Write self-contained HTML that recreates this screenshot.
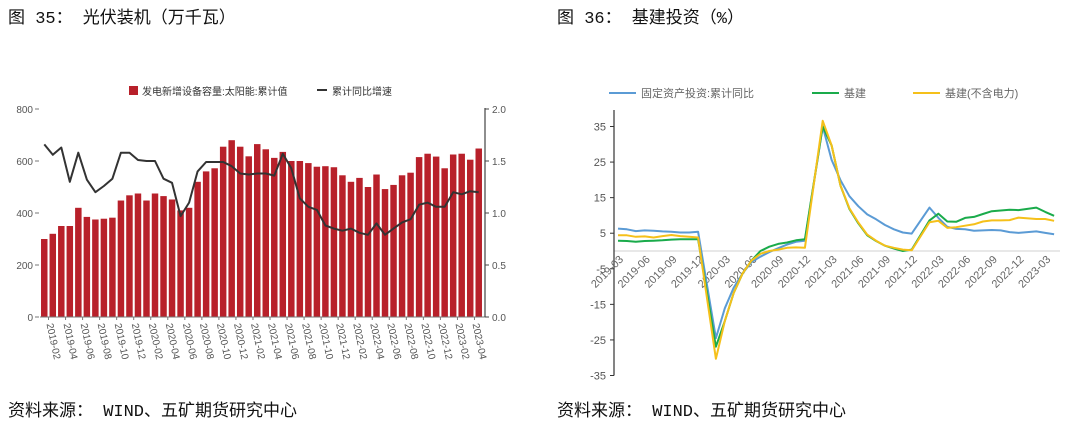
<!DOCTYPE html>
<html><head><meta charset="utf-8"><style>
body{margin:0;background:#fff;width:1080px;height:437px;overflow:hidden;font-family:"Liberation Sans","Noto Sans CJK SC",sans-serif;}
svg{position:absolute;left:0;top:0}
</style></head><body>
<svg id="svg" width="1080" height="437" xmlns="http://www.w3.org/2000/svg">
<text x="8" y="23" font-size="17" fill="#111" font-family="'Liberation Mono','Noto Sans CJK SC',monospace">图 35：  光伏装机（万千瓦）</text>
<text x="557" y="23" font-size="17" fill="#111" font-family="'Liberation Mono','Noto Sans CJK SC',monospace">图 36：  基建投资（%）</text>
<text x="8" y="416" font-size="17" fill="#111" font-family="'Liberation Mono','Noto Sans CJK SC',monospace">资料来源：  WIND、五矿期货研究中心</text>
<text x="557" y="416" font-size="17" fill="#111" font-family="'Liberation Mono','Noto Sans CJK SC',monospace">资料来源：  WIND、五矿期货研究中心</text>
<g id="left"></g>
<g id="right"></g>
</svg>
<script>
// ---- Left chart data ----
const barLabels = ["2019-02","2019-04","2019-06","2019-08","2019-10","2019-12","2020-02","2020-04","2020-06","2020-08","2020-10","2020-12","2021-02","2021-04","2021-06","2021-08","2021-10","2021-12","2022-02","2022-04","2022-06","2022-08","2022-10","2022-12","2023-02","2023-04"];
const capacity = [300,320,350,350,420,385,375,378,382,448,468,475,448,475,465,452,410,420,520,560,572,655,680,655,618,665,645,612,635,600,600,592,578,580,576,545,520,535,500,548,492,508,545,555,615,628,617,572,625,628,605,648];
const growth = [1.66,1.56,1.63,1.30,1.58,1.32,1.20,1.26,1.33,1.58,1.58,1.51,1.50,1.50,1.33,1.29,0.97,1.10,1.40,1.49,1.49,1.49,1.45,1.38,1.37,1.38,1.38,1.36,1.57,1.43,1.14,1.06,1.03,0.88,0.85,0.83,0.85,0.81,0.79,0.90,0.79,0.85,0.91,0.94,1.08,1.10,1.06,1.06,1.20,1.18,1.21,1.20];
const leftTicks = [0,200,400,600,800];
const rightTicks = [0.0,0.5,1.0,1.5,2.0];

// ---- Right chart data ----
const months = ["2019-03","2019-04","2019-05","2019-06","2019-07","2019-08","2019-09","2019-10","2019-11","2019-12",
"2020-02","2020-03","2020-04","2020-05","2020-06","2020-07","2020-08","2020-09","2020-10","2020-11","2020-12",
"2021-02","2021-03","2021-04","2021-05","2021-06","2021-07","2021-08","2021-09","2021-10","2021-11","2021-12",
"2022-02","2022-03","2022-04","2022-05","2022-06","2022-07","2022-08","2022-09","2022-10","2022-11","2022-12",
"2023-02","2023-03","2023-04"];
const fai = [6.3,6.1,5.6,5.8,5.7,5.5,5.4,5.2,5.2,5.4, -24.5,-16.1,-10.3,-6.3,-3.1,-1.6,-0.3,0.8,1.8,2.6,2.9, 35.0,25.6,19.9,15.4,12.6,10.3,8.9,7.3,6.1,5.2,4.9, 12.2,9.3,6.8,6.2,6.1,5.7,5.8,5.9,5.8,5.3,5.1, 5.5,5.1,4.7];
const infra = [2.9,2.8,2.6,2.8,2.9,3.0,3.2,3.3,3.3,3.3, -26.9,-19.7,-11.8,-6.3,-2.7,0.0,1.2,2.0,2.4,3.0,3.3, 35.0,29.7,18.4,11.8,7.8,4.4,2.8,1.5,0.7,0.0,0.4, 8.6,10.5,8.3,8.2,9.3,9.6,10.4,11.2,11.4,11.6,11.5, 12.2,11.0,9.9];
const infraEx = [4.4,4.4,4.0,4.1,3.8,4.2,4.5,4.2,4.0,3.8, -30.3,-19.7,-11.8,-6.3,-2.7,-0.8,0.0,0.4,0.9,1.0,0.9, 36.6,29.7,18.4,12.0,8.0,4.6,2.9,1.5,0.9,0.4,0.2, 8.1,8.5,6.5,6.7,7.1,7.5,8.3,8.6,8.6,8.7,9.4, 9.0,9.0,8.5];
const xTickLabels = ["2019-03","2019-06","2019-09","2019-12","2020-03","2020-06","2020-09","2020-12","2021-03","2021-06","2021-09","2021-12","2022-03","2022-06","2022-09","2022-12","2023-03"];
const yTicks = [35,25,15,5,-5,-15,-25,-35];

const NS="http://www.w3.org/2000/svg";
function mk(parent,tag,attrs,text){const e=document.createElementNS(NS,tag);for(const k in attrs)e.setAttribute(k,attrs[k]);if(text!==undefined)e.textContent=text;parent.appendChild(e);return e;}

// ---- Left chart ----
(function(){
const g=document.getElementById('left');
const x0=40,x1=483,yTop=109,yBot=317;
const n=capacity.length, bw=(x1-x0)/n;
const yL=v=>yBot-(v/800)*(yBot-yTop);
const yR=v=>yBot-(v/2)*(yBot-yTop);
const xc=i=>x0+bw*(i+0.5);
leftTicks.forEach(t=>{
  const e=mk(g,'text',{x:33,y:yL(t)+4,'font-size':10,fill:'#555','text-anchor':'end'},String(t));
  
  const l=mk(g,'line',{x1:35,x2:39,y1:yL(t),y2:yL(t),stroke:'#777'});
  
});
rightTicks.forEach(t=>{
  const e=mk(g,'text',{x:492,y:yR(t)+4,'font-size':10,fill:'#555'},t.toFixed(1));
  
  const l=mk(g,'line',{x1:485,x2:489,y1:yR(t),y2:yR(t),stroke:'#444'});
  
});
capacity.forEach((v,i)=>{
  const r=mk(g,'rect',{x:xc(i)-bw*0.38,y:yL(v),width:bw*0.76,height:yBot-yL(v),fill:'#b8202a'});
  
});
const ax=mk(g,'line',{x1:x0,x2:x1+2,y1:yBot,y2:yBot,stroke:'#777'});

const ar=mk(g,'line',{x1:485,x2:485,y1:yTop-1,y2:yBot,stroke:'#444','stroke-width':1.2});

barLabels.forEach((s,k)=>{
  const i=k*2, x=xc(i)+bw*0.5;
  const tl=mk(g,'line',{x1:x,x2:x,y1:yBot,y2:yBot+3,stroke:'#777'});
  
  const e=mk(g,'text',{x:0,y:0,'font-size':10,fill:'#555',transform:`translate(${x-2},${yBot+7}) rotate(78)`},s);
  
});
const pts=growth.map((v,i)=>xc(i).toFixed(1)+','+yR(v).toFixed(1)).join(' ');
const pl=mk(g,'polyline',{points:pts,fill:'none',stroke:'#333','stroke-width':2,'stroke-linejoin':'round'});

// legend
const lr=mk(g,'rect',{x:129,y:86,width:9,height:9,fill:'#b8202a'});

const lt=mk(g,'text',{x:142,y:95,'font-size':10,fill:'#333'},'发电新增设备容量:太阳能:累计值');

const ll=mk(g,'line',{x1:317,x2:327,y1:90,y2:90,stroke:'#333','stroke-width':2});

const lt2=mk(g,'text',{x:332,y:95,'font-size':10,fill:'#333'},'累计同比增速');

})();

// ---- Right chart ----
(function(){
const g=document.getElementById('right');
const axX=614, xs=618, step=8.9;
const mi=s=>{const [y,m]=s.split('-').map(Number);return (y-2019)*12+(m-3);};
const X=s=>xs+mi(s)*step;
const Y=v=>251-v*3.557;
const zl=mk(g,'line',{x1:axX,x2:1060,y1:Y(0),y2:Y(0),stroke:'#d0d0d0'});

const ya=mk(g,'line',{x1:axX,x2:axX,y1:110,y2:Y(-35),stroke:'#333','stroke-width':1.2});

yTicks.forEach(t=>{
  const l=mk(g,'line',{x1:axX-4,x2:axX,y1:Y(t),y2:Y(t),stroke:'#333'});
  
  const e=mk(g,'text',{x:axX-8,y:Y(t)+4,'font-size':11,fill:'#555','text-anchor':'end'},String(t));
  
});
xTickLabels.forEach(s=>{
  const x=X(s);
  const e=mk(g,'text',{x:0,y:0,'font-size':11,fill:'#666','text-anchor':'end',transform:`translate(${x+6},${Y(0)+9}) rotate(-45)`},s);
  
});
function line(arr,color,name){
  const pts=arr.map((v,i)=>X(months[i]).toFixed(1)+','+Y(v).toFixed(1)).join(' ');
  const p=mk(g,'polyline',{points:pts,fill:'none',stroke:color,'stroke-width':2,'stroke-linejoin':'round'});
  
  
}
line(fai,'#5b9bd5','fai-line');
line(infra,'#1aab4b','infrastructure-line');
line(infraEx,'#f5c01a','infrastructure-ex-power-line');
const leg=[[609,'#5b9bd5','固定资产投资:累计同比','legend-fai'],[812,'#1aab4b','基建','legend-infrastructure'],[913,'#f5c01a','基建(不含电力)','legend-infrastructure-ex-power']];
leg.forEach(([x,c,t,n])=>{
  const l=mk(g,'line',{x1:x,x2:x+27,y1:93,y2:93,stroke:c,'stroke-width':2});
  
  const e=mk(g,'text',{x:x+32,y:97,'font-size':11,fill:'#666'},t);
  
});
})();
</script>
</body></html>
